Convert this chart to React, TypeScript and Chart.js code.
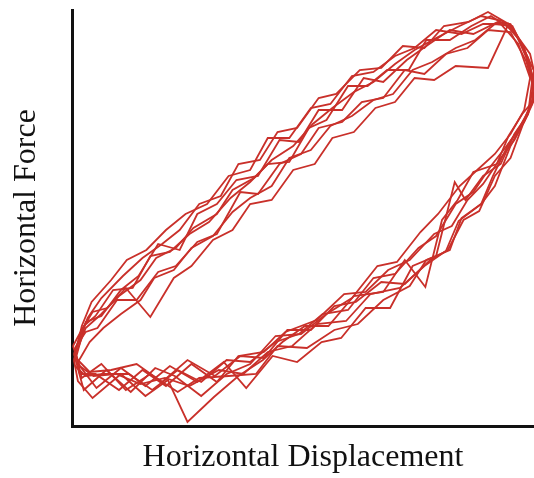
import React, { useEffect, useRef } from "react";
import { Chart, registerables } from "chart.js";

Chart.register(...registerables);

// Hysteresis cycles: [horizontal displacement, horizontal force] in arbitrary units
const cycle1: number[][] = [[3,70],[14,98],[30,112],[48,130],[70,146],[86,168],[106,178],[124,198],[148,212],[164,236],[186,248],[204,266],[226,280],[246,302],[266,318],[288,334],[308,344],[330,362],[350,376],[372,388],[396,400],[418,410],[440,405],[458,385],[472,355],[470,322],[458,300],[446,282],[430,250],[418,222],[395,205],[382,175],[360,160],[335,138],[305,132],[280,105],[250,102],[225,80],[200,74],[175,52],[150,56],[120,40],[95,48],[70,42],[45,52],[22,50],[5,62]];
const cycle2: number[][] = [[5,62],[18,84],[32,98],[50,112],[70,126],[84,148],[104,156],[122,178],[144,190],[164,214],[182,228],[204,240],[222,268],[244,276],[264,300],[286,310],[308,326],[328,332],[348,356],[368,364],[392,378],[412,386],[432,402],[450,400],[466,368],[474,335],[462,306],[448,280],[432,240],[418,222],[398,208],[386,176],[362,166],[345,140],[318,126],[292,102],[268,96],[240,78],[210,80],[188,52],[160,50],[130,48],[108,34],[80,52],[55,36],[30,62],[10,48],[3,75]];
const cycle3: number[][] = [[3,75],[16,108],[30,128],[52,150],[72,168],[92,182],[110,196],[130,222],[152,230],[170,262],[192,266],[210,294],[230,298],[252,328],[270,332],[294,356],[316,358],[338,380],[360,378],[380,400],[405,404],[425,414],[446,402],[462,378],[470,345],[466,312],[452,292],[438,262],[420,250],[402,226],[391,244],[372,170],[348,160],[325,118],[300,118],[275,88],[255,84],[230,64],[205,70],[178,38],[155,64],[128,44],[100,60],[75,40],[50,58],[25,38],[8,60],[1,80]];
const cycle4: number[][] = [[1,80],[12,100],[24,110],[42,136],[62,138],[80,170],[100,174],[120,192],[140,204],[162,228],[182,244],[200,262],[222,264],[242,298],[260,306],[282,340],[302,340],[322,356],[344,356],[362,386],[386,386],[408,400],[428,410],[452,395],[468,360],[472,326],[460,312],[446,290],[434,262],[410,254],[394,226],[378,206],[361,139],[340,166],[318,134],[288,130],[262,100],[238,100],[215,84],[195,66],[170,50],[145,29],[118,4],[98,46],[75,30],[50,52],[21,28],[6,45],[2,66]];
const cycle5: number[][] = [[2,66],[10,100],[20,124],[40,146],[56,166],[76,176],[96,196],[116,212],[138,222],[160,250],[182,256],[200,288],[222,288],[244,318],[264,322],[286,350],[308,354],[330,370],[350,378],[372,396],[398,392],[420,402],[438,402],[456,382],[468,348],[462,316],[448,292],[432,272],[414,256],[396,240],[374,212],[356,194],[332,164],[312,160],[286,128],[260,112],[234,92],[208,90],[182,62],[158,52],[132,30],[105,50],[85,58],[60,34],[35,56],[12,36],[2,72]];
const cycle6: number[][] = [[2,72],[10,96],[21,114],[36,118],[55,138],[80,109],[104,148],[122,160],[144,186],[164,196],[182,222],[204,226],[226,256],[248,262],[266,288],[288,294],[310,318],[330,324],[350,348],[370,346],[392,360],[425,358],[446,402],[468,372],[476,338],[462,305],[448,268],[432,250],[416,215],[400,206],[384,176],[366,166],[340,142],[316,144],[290,124],[268,120],[244,96],[220,96],[196,68],[172,70],[146,50],[118,66],[92,44],[66,62],[40,56],[18,54],[4,68]];
const cycle7: number[][] = [[4,68],[14,104],[30,110],[50,136],[68,150],[88,182],[110,176],[128,212],[148,222],[168,246],[190,250],[212,286],[232,284],[252,316],[276,316],[298,348],[318,344],[342,366],[362,380],[386,396],[410,392],[435,404],[448,402],[462,378],[472,345],[466,312],[452,286],[438,268],[420,242],[404,226],[388,200],[370,192],[345,166],[323,156],[300,134],[278,132],[250,106],[218,94],[196,74],[170,70],[148,44],[122,62],[96,40],[72,56],[48,36],[24,52],[8,52],[3,78]];
const cycle8: number[][] = [[3,78],[14,94],[26,98],[46,126],[66,126],[88,154],[106,160],[128,184],[148,192],[172,234],[190,232],[212,262],[234,272],[252,298],[276,304],[296,324],[318,328],[340,356],[360,352],[382,372],[404,378],[425,396],[448,394],[464,365],[474,330],[462,304],[444,280],[428,260],[410,234],[392,222],[372,190],[354,178],[330,152],[308,148],[282,116],[256,112],[232,92],[208,84],[182,64],[158,66],[132,44],[108,56],[82,36],[58,52],[32,52],[14,50],[3,60]];

const cycles = [cycle1, cycle2, cycle3, cycle4, cycle5, cycle6, cycle7, cycle8];

const xTitle = "Horizontal Displacement";
const yTitle = "Horizontal Force";
const xMin = 0;
const xMax = 472;
const yMin = 0;
const yMax = 416;

const LINE_COLOR = "#c9302a";
const FONT = "'Liberation Serif', 'Times New Roman', serif";

export default function App() {
  const ref = useRef<HTMLCanvasElement | null>(null);

  useEffect(() => {
    document.body.style.margin = "0";
    const canvas = ref.current;
    if (!canvas) return;
    const chart = new Chart(canvas, {
      type: "scatter",
      data: {
        datasets: cycles.map((c, i) => ({
          label: `Cycle ${i + 1}`,
          data: c.map(([x, y]) => ({ x, y })),
          showLine: true,
          borderColor: LINE_COLOR,
          backgroundColor: LINE_COLOR,
          borderWidth: 1.8,
          pointRadius: 0,
          tension: 0,
        })),
      },
      options: {
        responsive: false,
        animation: false,
        maintainAspectRatio: false,
        layout: { padding: { top: 10, right: -10, left: 0, bottom: 0 } },
        plugins: {
          legend: { display: false },
          tooltip: { enabled: false },
        },
        scales: {
          x: {
            type: "linear",
            min: xMin,
            max: xMax,
            grid: { display: false, drawTicks: false },
            border: { display: true, color: "#111", width: 3 },
            ticks: { display: false },
            title: {
              display: true,
              text: xTitle,
              color: "#111",
              font: { family: FONT, size: 32 },
              padding: { top: 0, bottom: 1 },
            },
            afterFit: (scale: any) => {
              scale.height = 52;
            },
          },
          y: {
            type: "linear",
            min: yMin,
            max: yMax,
            grid: { display: false, drawTicks: false },
            border: { display: true, color: "#111", width: 3 },
            ticks: { display: false },
            title: {
              display: true,
              text: yTitle,
              color: "#111",
              font: { family: FONT, size: 32 },
              padding: { top: 7, bottom: 0 },
            },
            afterFit: (scale: any) => {
              scale.width = 72;
            },
          },
        },
      },
    });
    return () => chart.destroy();
  }, []);

  return (
    <div style={{ position: "fixed", left: 0, top: 0, width: 534, height: 478, background: "#fff" }}>
      <canvas ref={ref} width={534} height={478} style={{ display: "block" }} />
    </div>
  );
}
